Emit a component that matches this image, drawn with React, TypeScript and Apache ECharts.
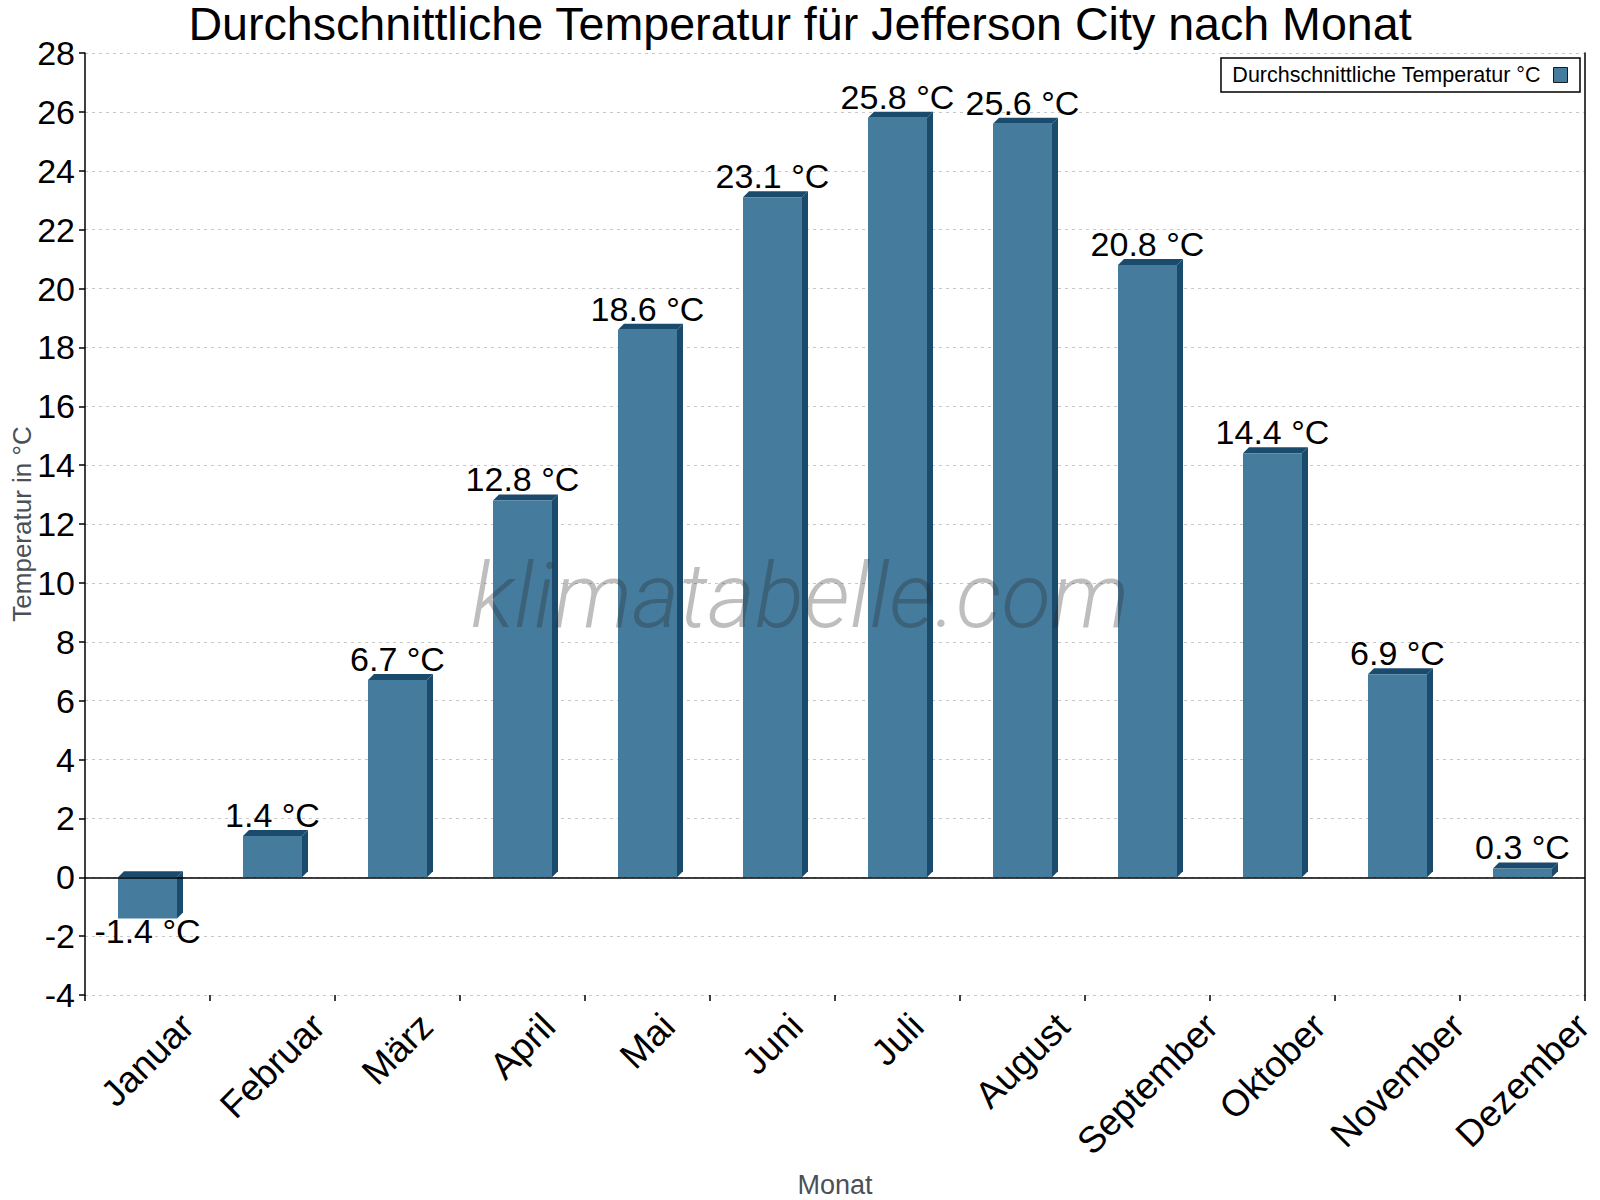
import { useEffect, useRef } from 'react'
import * as echarts from 'echarts'

const TITLE = 'Durchschnittliche Temperatur für Jefferson City nach Monat'
const SERIES_NAME = 'Durchschnittliche Temperatur °C'
const MONTHS = [
  'Januar', 'Februar', 'März', 'April', 'Mai', 'Juni',
  'Juli', 'August', 'September', 'Oktober', 'November', 'Dezember',
]
const TEMPS = [-1.4, 1.4, 6.7, 12.8, 18.6, 23.1, 25.8, 25.6, 20.8, 14.4, 6.9, 0.3]
const Y_MIN = -4
const Y_MAX = 28
const Y_STEP = 2

const FRONT = '#457b9d'
const DARK = '#1b4b6c'
const BAR_W = 59
const DEPTH = 6
const FONT = '"Liberation Sans", Arial, Helvetica, sans-serif'
const MONTH_FONT_SIZE = 37

export default function App() {
  const chartRef = useRef<HTMLDivElement>(null)

  useEffect(() => {
    if (!chartRef.current) return
    document.body.style.margin = '0'

    // measure month labels so each rotated label can be centred under its bar
    const ctx = document.createElement('canvas').getContext('2d')!
    ctx.font = `${MONTH_FONT_SIZE}px ${FONT}`
    const rich: Record<string, any> = {}
    MONTHS.forEach((m, i) => {
      const w = ctx.measureText(m).width
      rich['m' + i] = {
        fontSize: MONTH_FONT_SIZE,
        fontFamily: FONT,
        color: '#000',
        padding: [w / 2, w / 2, 0, 0],
      }
    })

    const chart = echarts.init(chartRef.current, null, { renderer: 'svg' })

    const option: any = {
      animation: false,
      textStyle: { fontFamily: FONT },
      title: {
        text: TITLE,
        left: 'center',
        top: 0,
        padding: 0,
        textStyle: { fontSize: 46.6, fontWeight: 'normal', color: '#000', fontFamily: FONT },
      },
      legend: {
        right: 20,
        top: 58,
        align: 'right',
        orient: 'horizontal',
        itemWidth: 14,
        itemHeight: 15,
        padding: [6, 12, 6, 11],
        borderColor: '#000',
        borderWidth: 1.5,
        borderRadius: 0,
        itemStyle: { borderColor: '#1a1a1a', borderWidth: 1 },
        textStyle: { fontSize: 21.5, color: '#000', fontFamily: FONT, padding: [0, 8, 0, 0] },
        data: [{ name: SERIES_NAME, icon: 'rect' }],
      },
      grid: {
        left: 85,
        right: 15,
        top: 53,
        bottom: 205,
        containLabel: false,
        outerBoundsMode: 'none',
      },
      graphic: [
        {
          type: 'text',
          left: 'center',
          top: 550,
          z: 100,
          silent: true,
          style: {
            text: 'klimatabelle.com',
            font: 'italic 300 91px Roboto, "Open Sans", sans-serif',
            fill: 'rgba(40, 40, 40, 0.3)',
          },
        },
      ],
      xAxis: {
        type: 'category',
        data: MONTHS,
        boundaryGap: true,
        name: 'Monat',
        nameLocation: 'middle',
        nameGap: 176,
        nameMoveOverlap: false,
        nameTextStyle: { fontSize: 27, color: '#4a5056', fontFamily: FONT },
        axisLine: { show: false, onZero: false },
        axisTick: { show: true, length: 6, lineStyle: { color: '#000', width: 1.5 } },
        splitLine: { show: false },
        axisLabel: {
          interval: 0,
          rotate: 45,
          align: 'center',
          verticalAlign: 'middle',
          margin: 25,
          fontSize: MONTH_FONT_SIZE,
          color: '#000',
          formatter: (value: string, index: number) => `{m${index}|${value}}`,
          rich,
        },
      },
      yAxis: [
        {
          type: 'value',
          min: Y_MIN,
          max: Y_MAX,
          interval: Y_STEP,
          name: 'Temperatur in °C',
          nameLocation: 'middle',
          nameGap: 50,
          nameMoveOverlap: false,
          nameTextStyle: { fontSize: 26, color: '#4a5056', fontFamily: FONT },
          axisLine: { show: true, lineStyle: { color: '#000', width: 1.5 } },
          axisTick: { show: true, length: 6, lineStyle: { color: '#000', width: 1.5 } },
          axisLabel: { fontSize: 34, color: '#000', margin: 10 },
          splitLine: { show: true, lineStyle: { color: '#c8c8c8', type: [3, 4], width: 1 } },
        },
        {
          type: 'value',
          min: Y_MIN,
          max: Y_MAX,
          interval: Y_STEP,
          position: 'right',
          axisLine: { show: true, onZero: false, lineStyle: { color: '#000', width: 1.5 } },
          axisTick: { show: false },
          axisLabel: { show: false },
          splitLine: { show: false },
        },
      ],
      series: [
        {
          name: SERIES_NAME,
          type: 'bar',
          barWidth: BAR_W,
          itemStyle: { color: FRONT, borderColor: '#1a1a1a', borderWidth: 0 },
          label: {
            show: true,
            position: 'top',
            distance: 4,
            fontSize: 34,
            color: '#000',
            fontFamily: FONT,
            formatter: (p: any) => `${Number(p.value).toFixed(1)} °C`,
          },
          markLine: {
            silent: true,
            symbol: 'none',
            label: { show: false },
            lineStyle: { color: '#000', type: 'solid', width: 1.5 },
            data: [{ yAxis: 0 }],
          },
          data: TEMPS.map((v) =>
            v < 0 ? { value: v, label: { position: 'bottom', distance: -4 } } : v,
          ),
        },
        {
          type: 'custom',
          silent: true,
          encode: { x: 0, y: 1 },
          renderItem: (_params: any, api: any) => {
            const idx = api.value(0)
            const v = api.value(1)
            const top = api.coord([idx, Math.max(v, 0)])
            const bot = api.coord([idx, Math.min(v, 0)])
            const xl = top[0] - BAR_W / 2
            const xr = top[0] + BAR_W / 2
            const yt = top[1]
            const yb = bot[1]
            return {
              type: 'group',
              children: [
                {
                  type: 'polygon',
                  shape: { points: [[xl, yt], [xl + DEPTH, yt - DEPTH], [xr + DEPTH, yt - DEPTH], [xr, yt]] },
                  style: { fill: DARK },
                },
                {
                  type: 'polygon',
                  shape: { points: [[xr, yt], [xr + DEPTH, yt - DEPTH], [xr + DEPTH, yb - DEPTH], [xr, yb]] },
                  style: { fill: DARK },
                },
              ],
            }
          },
          data: TEMPS.map((v, i) => [i, v]),
        },
      ],
    }

    chart.setOption(option)

    return () => {
      chart.dispose()
    }
  }, [])

  return <div ref={chartRef} style={{ width: '1600px', height: '1200px' }} />
}
